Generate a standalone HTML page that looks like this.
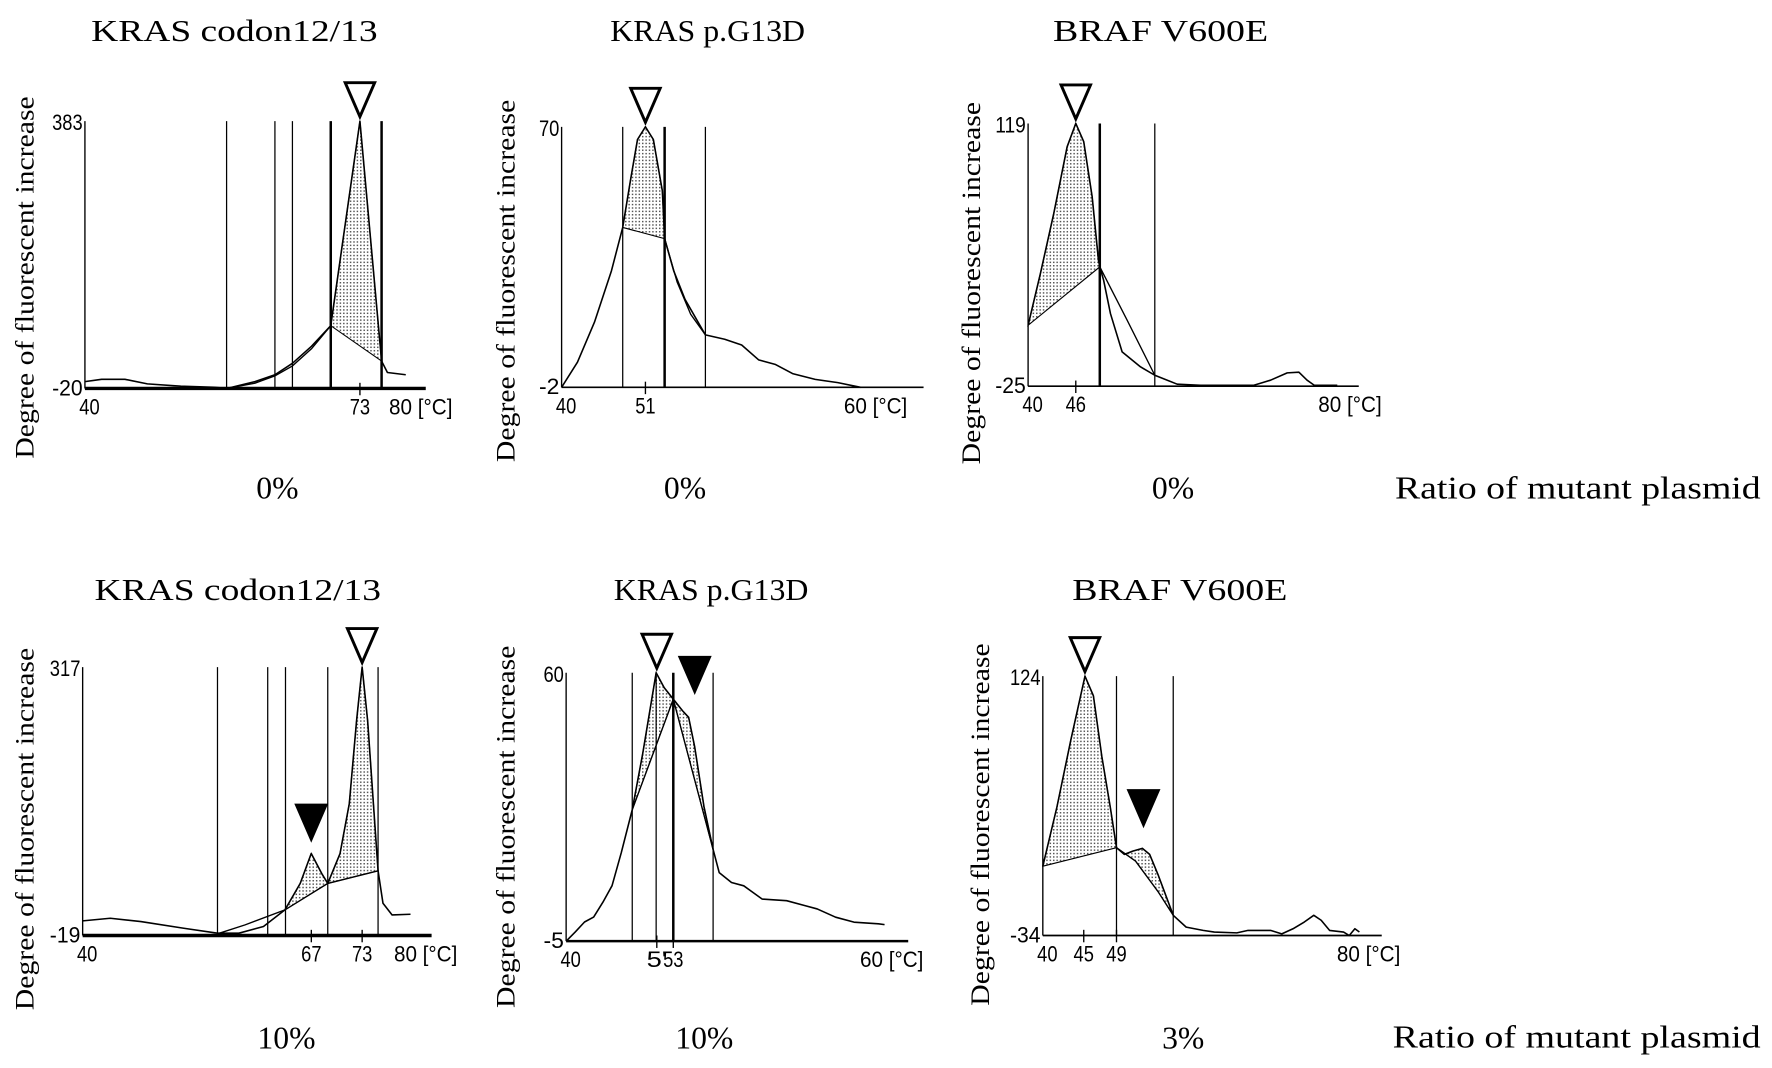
<!DOCTYPE html>
<html><head><meta charset="utf-8"><title>Melting curve panels</title>
<style>
html,body{margin:0;padding:0;background:#fff;}
svg{display:block;}
.serif{font-family:"Liberation Serif",serif;fill:#000;}
.tick{font-family:"Liberation Sans",sans-serif;font-size:20px;fill:#000;}
</style></head>
<body>
<svg id="fig" xmlns="http://www.w3.org/2000/svg" width="1772" height="1068" viewBox="0 0 1565 943" preserveAspectRatio="none">
<defs>
<pattern id="dots" width="3" height="3" patternUnits="userSpaceOnUse">
<rect width="3" height="3" fill="#fff"/>
<rect x="0" y="0" width="1.3" height="1.3" fill="#555"/>
</pattern>
</defs>
<rect width="1565" height="943" fill="#fff"/>
<text class="serif" x="207" y="36" font-size="27" text-anchor="middle" textLength="253" lengthAdjust="spacingAndGlyphs">KRAS codon12/13</text>
<text class="serif" x="625" y="36" font-size="27" text-anchor="middle" textLength="172" lengthAdjust="spacingAndGlyphs">KRAS p.G13D</text>
<text class="serif" x="1025" y="36" font-size="27" text-anchor="middle" textLength="190" lengthAdjust="spacingAndGlyphs">BRAF V600E</text>
<text class="serif" x="210" y="530" font-size="27" text-anchor="middle" textLength="253" lengthAdjust="spacingAndGlyphs">KRAS codon12/13</text>
<text class="serif" x="628" y="530" font-size="27" text-anchor="middle" textLength="172" lengthAdjust="spacingAndGlyphs">KRAS p.G13D</text>
<text class="serif" x="1042" y="530" font-size="27" text-anchor="middle" textLength="190" lengthAdjust="spacingAndGlyphs">BRAF V600E</text>
<text class="serif" x="245" y="440" font-size="28" text-anchor="middle">0%</text>
<text class="serif" x="605" y="440" font-size="28" text-anchor="middle">0%</text>
<text class="serif" x="1036" y="440" font-size="28" text-anchor="middle">0%</text>
<text class="serif" x="253" y="926" font-size="28" text-anchor="middle">10%</text>
<text class="serif" x="622" y="926" font-size="28" text-anchor="middle">10%</text>
<text class="serif" x="1045" y="926" font-size="28" text-anchor="middle">3%</text>
<text class="serif" x="1232" y="440" font-size="28" textLength="323" lengthAdjust="spacingAndGlyphs">Ratio of mutant plasmid</text>
<text class="serif" x="1230" y="925" font-size="28" textLength="325" lengthAdjust="spacingAndGlyphs">Ratio of mutant plasmid</text>
<g id="charts"></g>
</svg>
<script>
// ---- data (temperature °C / fluorescence increase) ----
const p1T = [40,42.0,44.8,47.5,51.5,55.6,57.0,60.4,62.8,64.9,67.2,69.5,73.0,75.6,76.3,78.5];
const p1V = [-9.7,-6.2,-6.2,-13.1,-16.6,-18.3,-20,-9.7,0.7,17.9,43.7,74.7,383,21.3,4.1,0.7];
const p1T2 = [57.0,60.4,62.8,64.9,67.2,69.5];
const p1V2 = [-20,-12,-1,14,40,74.7];
const p1Vert = [57.0,62.8,64.9,69.5,75.6];

const p2T = [40,42.08,44.31,46.54,48.02,49.06,49.96,51,52.04,53.22,53.52,54.71,56.2,58.87,61.4,63.63,65.85,68.08,70.31,73.28,76.25,79.23];
const p2V = [-2,4.95,16.0,30.2,42.2,55.5,66.5,70,66.5,52.3,39.1,30.2,22.3,12.5,11.3,9.7,5.6,4.3,1.8,0.2,-0.7,-2];
const p2T2 = [53.52,55.16,56.94,58.87];
const p2V2 = [39.1,27.1,18.2,12.5];
const p2Vert = [48.02,53.52,58.87];

const p3T = [40,41.55,43.23,44.91,46,47.0,48.06,48.85,49.02,49.5,50.36,51.83,54.14,55.94,58.76,61.7,68.4,70.5,72.6,74.07,75.1,76.0,78.9];
const p3V = [8.4,36.8,69.7,106.2,119,109,78.8,44.1,40.4,33.1,14.8,-6.2,-14.4,-19,-23.9,-24.5,-24.5,-21.7,-17.7,-17.3,-21.7,-24.5,-24.5];
const p3T2 = [49.02,52.46,55.94];
const p3V2 = [40.4,11.2,-19];
const p3Vert = [49.02,55.94];

const p4T = [40,43.26,46.87,51.94,55.92,58.45,61.35,63.88,65.69,66.99,68.22,68.94,70.39,71.48,72.34,73.0,73.65,74.88,75.46,76.54,78.71];
const p4V = [-0.7,2.6,-1.6,-9.9,-16.1,-16.1,-7.8,13.0,46.2,83.6,58.7,46.2,83.6,145.9,249.7,317,249.7,62.0,21.3,6.7,7.6];
const p4T2 = [55.92,59.18,63.88,68.94,74.88];
const p4V2 = [-16.9,-5.7,13.0,46.2,62.0];
const p4Vert = [55.92,61.85,63.95,68.94,74.88];

const p5T = [40,41.11,42.23,43.34,44.46,45.57,46.69,48.02,49.29,50.92,51.89,53.0,54.12,54.86,55.6,56.72,57.83,58.57,60.06,61.55,63.77,66.75,68.97,70.46,72.69,74.92,77.89,78.63];
const p5V = [-5,-2.76,-0.36,0.84,4.43,8.43,16.43,26.82,40.41,60,56.4,53.6,50.8,49.2,42.0,27.6,17.2,11.6,9.2,8.4,5.2,4.8,3.6,2.8,0.8,-0.4,-0.8,-1.0];
const p5T2 = [48.02,53.0,57.83];
const p5V2 = [26.82,53.6,17.2];
const p5Vert = [48.02,50.92,53.0,57.83];

const p6T = [40,41.72,43.43,45.15,46.18,47.21,48.24,49.0,49.96,50.99,52.16,53.05,54.08,55.93,57.51,59.57,60.95,63.7,65.07,67.82,69.19,70.56,71.94,73.1,74.0,75.03,76.74,77.43,78.12,78.67];
const p6V = [8.2,44.2,85.3,124,112.0,75.0,44.2,19.5,15.4,17.4,19.1,15.4,3.0,-21.7,-28.9,-30.9,-31.9,-32.4,-30.9,-30.9,-33.0,-29.9,-25.8,-21.7,-24.7,-30.9,-31.9,-34,-29.9,-31.9];
const p6T2 = [49.0,51.33,54.08,55.93];
const p6V2 = [19.5,11.3,-7.3,-21.7];
const p6Vert = [49.0,55.93];

// tick values / labels
const p1Ticks = [40,73], p1TickLabels = ["40","73"], p1YLabels = ["383","-20"];
const p2Ticks = [40,51], p2TickLabels = ["40","51"], p2YLabels = ["70","-2"];
const p3Ticks = [40,46], p3TickLabels = ["40","46"], p3YLabels = ["119","-25"];
const p4Ticks = [40,67,73], p4TickLabels = ["40","67","73"], p4YLabels = ["317","-19"];
const p5Ticks = [40,51,53], p5TickLabels = ["40","5'","53"], p5YLabels = ["60","-5"];
const p6Ticks = [40,45,49], p6TickLabels = ["40","45","49"], p6YLabels = ["124","-34"];

// peak markers (temp, value, filled)
const p1MarkT = [73], p1MarkV = [383], p1MarkFill = [false];
const p2MarkT = [51], p2MarkV = [70], p2MarkFill = [false];
const p3MarkT = [46], p3MarkV = [119], p3MarkFill = [false];
const p4MarkT = [73,66.99], p4MarkV = [317,96], p4MarkFill = [false,true];
const p5MarkT = [51,55.6], p5MarkV = [60,54.4], p5MarkFill = [false,true];
const p6MarkT = [45.15,52.3], p6MarkV = [124,30.8], p6MarkFill = [false,true];

// ---- rendering ----
const NS = "http://www.w3.org/2000/svg";
const root = document.getElementById("charts");
function mk(tag, attrs, parent){
  const e = document.createElementNS(NS, tag);
  for (const k in attrs) e.setAttribute(k, attrs[k]);
  (parent||root).appendChild(e);
  return e;
}

function drawPanel(id, g, T, V, T2, V2, vert, thick, shades, ticks, tickLabels, yLabels, endLabel, endT, mT, mV, mF){
  const grp = mk("g", {});
  
  
  const xs = t => g.x0 + (t - 40) * g.k;
  const ys = v => g.yb - (v - g.vmin) / (g.vmax - g.vmin) * (g.yb - g.yt);
  shades.forEach((s, i) => {
    const pts = [];
    for (let j = 0; j < T.length; j++) if (T[j] >= s[0] - 1e-6 && T[j] <= s[1] + 1e-6) pts.push(xs(T[j]) + "," + ys(V[j]));
    for (let j = s[2].length - 1; j >= 0; j--) pts.push(xs(s[2][j]) + "," + ys(s[3][j]));
    const p = mk("polygon", {points: pts.join(" "), fill: "url(#dots)", stroke: "#000", "stroke-width": 1}, grp);
    
    
  });
  vert.forEach((t, i) => {
    const l = mk("line", {x1: xs(t), x2: xs(t), y1: g.yt, y2: g.yb, stroke: "#000", "stroke-width": thick[i] ? 2.2 : 1.1}, grp);
    
    
  });
  const ya = mk("line", {x1: g.x0, x2: g.x0, y1: g.yt, y2: g.yb, stroke: "#000", "stroke-width": 1.2}, grp);
  
  
  const xa = mk("line", {x1: g.x0, x2: xs(g.tend), y1: g.yb, y2: g.yb, stroke: "#000", "stroke-width": g.bw}, grp);
  
  
  const c2 = mk("polyline", {points: T2.map((t, j) => xs(t) + "," + ys(V2[j])).join(" "), fill: "none", stroke: "#000", "stroke-width": 1.2}, grp);
  
  
  const c = mk("polyline", {points: T.map((t, j) => xs(t) + "," + ys(V[j])).join(" "), fill: "none", stroke: "#000", "stroke-width": 1.4, "stroke-linejoin": "round"}, grp);
  
  
  ticks.forEach((t, i) => {
    if (t !== 40) {
      const tk = mk("line", {x1: xs(t), x2: xs(t), y1: g.yb - 5, y2: g.yb + 6, stroke: "#000", "stroke-width": 1.2}, grp);
      
      
    }
    const tx = mk("text", {x: xs(t) + (i === 0 ? 4 : 0), y: g.yb + 23, "text-anchor": "middle", class: "tick", textLength: tickLabels[i].length * 9, lengthAdjust: "spacingAndGlyphs"}, grp);
    tx.textContent = tickLabels[i];
    
    
  });
  const el = mk("text", {x: xs(endT), y: g.yb + 23, "text-anchor": "middle", class: "tick", textLength: 56, lengthAdjust: "spacingAndGlyphs"}, grp);
  el.textContent = endLabel + " [°C]";
  
  
  [[g.yt + 8, yLabels[0]], [g.yb + 6, yLabels[1]]].forEach((a, i) => {
    const t = mk("text", {x: g.x0 - 2, y: a[0], "text-anchor": "end", class: "tick", textLength: a[1].length * 9, lengthAdjust: "spacingAndGlyphs"}, grp);
    t.textContent = a[1];
    
    
  });
  const yt = mk("text", {x: g.tx, y: g.ty, transform: "rotate(-90 " + g.tx + " " + g.ty + ")", "text-anchor": "middle", "dominant-baseline": "central", class: "serif", "font-size": 23, textLength: 320, lengthAdjust: "spacingAndGlyphs"}, grp);
  yt.textContent = "Degree of fluorescent increase";
  
  
  mT.forEach((t, i) => {
    const cx = xs(t), tip = ys(mV[i]) - 4, w = 13, h = 30;
    const m = mk("polygon", {points: cx + "," + tip + " " + (cx - w) + "," + (tip - h) + " " + (cx + w) + "," + (tip - h), fill: mF[i] ? "#000" : "#fff", stroke: "#000", "stroke-width": 2.6, "stroke-linejoin": "miter"}, grp);
    
    
  });
}

drawPanel("p1", {x0:75, k:7.36, yt:107, yb:343, vmin:-20, vmax:383, tend:80.9, bw:3, tx:22, ty:245},
  p1T, p1V, p1T2, p1V2, p1Vert, [false,false,false,true,true],
  [[69.5,75.6,[69.5,75.6],[74.7,21.3]]], p1Ticks, p1TickLabels, p1YLabels, "80", 80.3, p1MarkT, p1MarkV, p1MarkFill);
drawPanel("p2", {x0:496, k:6.73, yt:112, yb:342, vmin:-2, vmax:70, tend:87.5, bw:1.5, tx:447, ty:248},
  p2T, p2V, p2T2, p2V2, p2Vert, [false,true,false],
  [[48.02,53.52,[48.02,53.52],[42.2,39.1]]], p2Ticks, p2TickLabels, p2YLabels, "60", 81.2, p2MarkT, p2MarkV, p2MarkFill);
drawPanel("p3", {x0:908, k:7.02, yt:109, yb:341, vmin:-25, vmax:119, tend:81.6, bw:1.5, tx:858, ty:250},
  p3T, p3V, p3T2, p3V2, p3Vert, [true,false],
  [[40,49.02,[40,49.02],[8.4,40.4]]], p3Ticks, p3TickLabels, p3YLabels, "80", 80.5, p3MarkT, p3MarkV, p3MarkFill);
drawPanel("p4", {x0:73, k:7.48, yt:589, yb:826, vmin:-19, vmax:317, tend:81.2, bw:3, tx:22, ty:732},
  p4T, p4V, p4T2, p4V2, p4Vert, [false,false,false,false,false],
  [[63.88,68.94,[63.88,68.94],[13.0,46.2]],[68.94,74.88,[68.94,74.88],[46.2,62.0]]], p4Ticks, p4TickLabels, p4YLabels, "80", 80.5, p4MarkT, p4MarkV, p4MarkFill);
drawPanel("p5", {x0:500, k:7.28, yt:594, yb:831, vmin:-5, vmax:60, tend:81.5, bw:2.2, tx:447, ty:730},
  p5T, p5V, p5T2, p5V2, p5Vert, [false,false,true,false],
  [[48.02,53.0,[48.02,53.0],[26.82,53.6]],[53.0,57.83,[53.0,57.83],[53.6,17.2]]], p5Ticks, p5TickLabels, p5YLabels, "60", 79.5, p5MarkT, p5MarkV, p5MarkFill);
drawPanel("p6", {x0:921, k:7.23, yt:597, yb:826, vmin:-34, vmax:124, tend:81.4, bw:1.5, tx:866, ty:728},
  p6T, p6V, p6T2, p6V2, p6Vert, [false,false],
  [[40,49.0,[40,49.0],[8.2,19.5]],[49.0,55.93,p6T2,p6V2]], p6Ticks, p6TickLabels, p6YLabels, "80", 79.8, p6MarkT, p6MarkV, p6MarkFill);
</script>
</body></html>
